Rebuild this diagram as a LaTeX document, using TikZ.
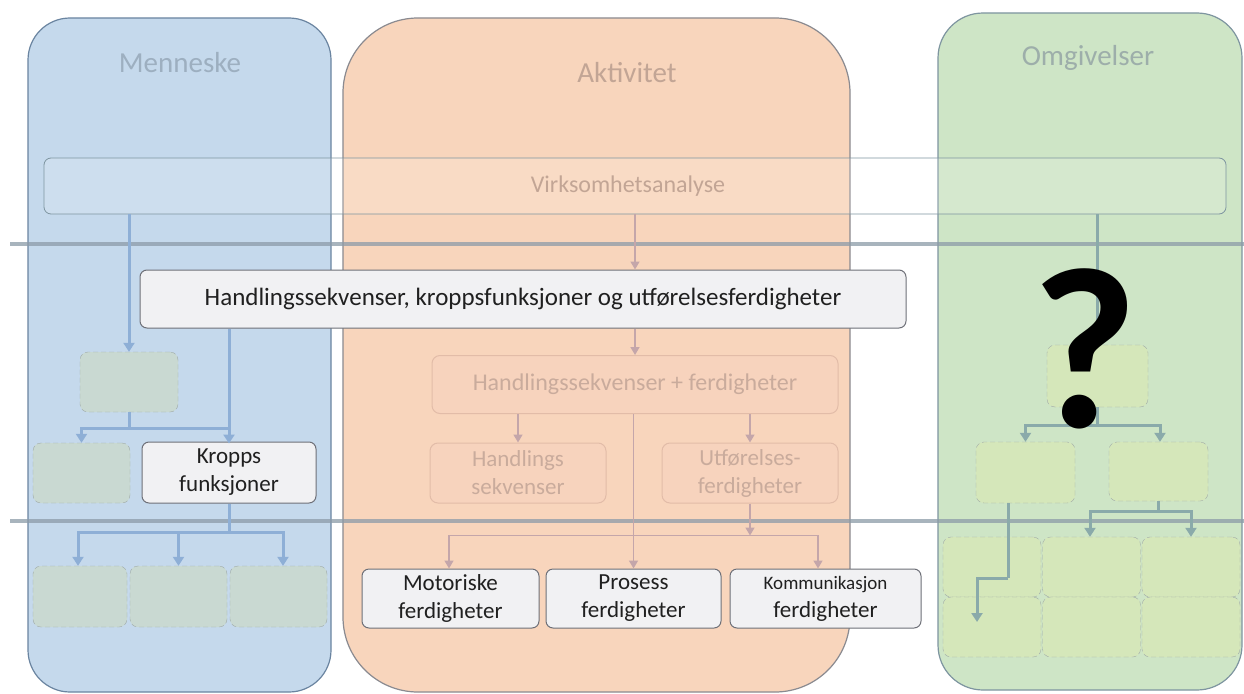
\documentclass[tikz,border=0pt]{standalone}
\usepackage{fontspec}
\setmainfont{Carlito}
\usetikzlibrary{arrows.meta}
\definecolor{bluefill}{HTML}{C5D9EC}
\definecolor{blueedge}{HTML}{6A84A0}
\definecolor{peachfill}{HTML}{F8D5BC}
\definecolor{peachedge}{HTML}{8A8A90}
\definecolor{greenfill}{HTML}{CEE5C6}
\definecolor{greenedge}{HTML}{7E95A0}
\definecolor{titleblue}{HTML}{9DAFC0}
\definecolor{titlepeach}{HTML}{C2A595}
\definecolor{titlegreen}{HTML}{9DAEAA}
\definecolor{barcol}{HTML}{8C9BA8}
\definecolor{bluearr}{HTML}{8EAFD6}
\definecolor{peacharr}{HTML}{C4A6AA}
\definecolor{greenarr}{HTML}{8AAAAA}
\definecolor{mainfill}{HTML}{F1F1F3}
\definecolor{mainedge}{HTML}{6E7078}
\definecolor{bdashfill}{HTML}{C9D9D2}
\definecolor{gdashfill}{HTML}{D5E7BA}
\definecolor{dashedge}{HTML}{A0AAA8}
\definecolor{hsffill}{HTML}{F7D3BD}
\definecolor{hsfedge}{HTML}{E2BCA8}
\definecolor{hsftext}{HTML}{C9AB9C}
\definecolor{maintext}{HTML}{202020}
\tikzset{
  panel/.style={draw=#1edge, fill=#1fill, line width=1.2pt},
  title/.style={font=\fontsize{29}{31}\selectfont},
  mainbox/.style={draw=mainedge, fill=mainfill, text=maintext, rounded corners=7pt, line width=1pt, align=center, inner sep=0pt},
  dashbox/.style={draw=dashedge, dashed, dash pattern=on 5pt off 3pt, fill=#1, rounded corners=8pt, inner sep=0pt},
  hsfbox/.style={draw=hsfedge, fill=hsffill, rounded corners=8pt, line width=1pt, text=hsftext, align=center, inner sep=0pt},
  twoline/.style={font=\fontsize{23}{28}\selectfont},
  barrow/.style={draw=bluearr, line width=3pt, -{Triangle[length=9pt,width=11pt]}},
  bline/.style={draw=bluearr, line width=3pt},
  parrow/.style={draw=peacharr, line width=1.6pt, -{Triangle[length=8pt,width=9pt]}},
  pline/.style={draw=peacharr, line width=1.6pt},
  garrow/.style={draw=greenarr, line width=3pt, -{Triangle[length=9pt,width=11pt]}},
  gline/.style={draw=greenarr, line width=3pt},
  hbar/.style={draw=barcol, line width=4pt, opacity=0.75},
}
\begin{document}
\begin{tikzpicture}[x=1pt,y=-1pt]
\useasboundingbox (0,0) rectangle (1244,693);
\fill[white] (0,0) rectangle (1244,693);
% panels
\node[panel=blue, rounded corners=42pt, minimum width=303pt, minimum height=674pt] (pm) at (179.5,355) {};
\node[panel=peach, rounded corners=75pt, minimum width=507pt, minimum height=674pt] (pa) at (596.5,355) {};
\node[panel=green, rounded corners=45pt, minimum width=304pt, minimum height=677pt] (po) at (1090,351.5) {};
\node[title, text=titleblue] (tm) at (180,63) {Menneske};
\node[title, text=titlepeach] (ta) at (627,73) {Aktivitet};
\node[title, text=titlegreen] (to) at (1088,58) {Omgivelser};
% Virksomhetsanalyse
\node[draw=greenedge, fill=white, fill opacity=0.15, text opacity=1, rounded corners=7pt, line width=0.8pt, minimum width=1182pt, minimum height=56pt, inner sep=0pt] (va) at (635,186) {};
\node[text=titlepeach, font=\fontsize{24}{26}\selectfont] (vat) at (628,186) {Virksomhetsanalyse};
% gray bars
\coordinate (b1l) at (10,244); \coordinate (b1r) at (1244,244);
\coordinate (b2l) at (10,521); \coordinate (b2r) at (1244,521);
\draw[hbar] (b1l) -- (b1r);
\draw[hbar] (b2l) -- (b2r);
% ---------- blue column ----------
\node[dashbox=bdashfill, minimum width=98pt, minimum height=60pt] (d1) at (129,382) {};
\node[dashbox=bdashfill, minimum width=97pt, minimum height=60pt] (d2) at (81.5,473) {};
\node[dashbox=bdashfill, minimum width=94pt, minimum height=61pt] (d3) at (80,596.5) {};
\node[dashbox=bdashfill, minimum width=97pt, minimum height=61pt] (d4) at (178.5,596.5) {};
\node[dashbox=bdashfill, minimum width=97pt, minimum height=61pt] (d5) at (278.5,596.5) {};
% main box
\node[mainbox, minimum width=766pt, minimum height=58pt, font=\fontsize{25}{27}\selectfont] (main) at (523,299) {Handlingssekvenser, kroppsfunksjoner og utførelsesferdigheter};
\node[mainbox, twoline, minimum width=174pt, minimum height=61pt] (kr) at (229,472.5) {Kropps\\funksjoner};
\draw[barrow] (va.south -| d1.north) -- (d1.north);
\draw[bline] (d1.south) -- ++(0,16) coordinate (j1);
\draw[barrow] (j1) -| (d2.north);
\draw[bline] (j1) -- (j1 -| kr.north);
\draw[barrow] (main.south -| kr.north) -- ([yshift=-2pt]kr.north);
\draw[bline] (kr.south) -- ++(0,29) coordinate (j2);
\draw[barrow] (j2) -| ([xshift=-2pt]d3.north);
\draw[barrow] (j2) -| ([xshift=4.5pt]d5.north);
\draw[barrow] (j2 -| d4.north) -- (d4.north);
% ---------- peach column ----------
\node[hsfbox, minimum width=406pt, minimum height=58pt, font=\fontsize{24}{26}\selectfont] (hsf) at (635,384.5) {Handlingssekvenser + ferdigheter};
\node[hsfbox, twoline, minimum width=176pt, minimum height=60pt] (hand) at (518,473) {Handlings\\sekvenser};
\node[hsfbox, twoline, minimum width=176pt, minimum height=60pt] (utf) at (750,473) {Utførelses-\\ferdigheter};
\node[mainbox, twoline, minimum width=177pt, minimum height=59pt] (mot) at (450.5,598.5) {Motoriske\\ferdigheter};
\node[mainbox, twoline, minimum width=175pt, minimum height=59pt] (pros) at (633.5,598.5) {Prosess\\ferdigheter};
\node[mainbox, twoline, minimum width=191pt, minimum height=59pt] (kom) at (825.5,598.5) {{\fontsize{19}{21}\selectfont Kommunikasjon}\\ferdigheter};
\draw[parrow] (va.south -| hsf.north) -- (main.north -| hsf.north);
\draw[parrow] (main.south -| hsf.north) -- (hsf.north);
\draw[parrow] (hsf.south -| hand.north) -- (hand.north);
\draw[parrow] (hsf.south -| utf.north) -- (utf.north);
\draw[parrow] (hsf.south -| pros.north) -- (pros.north);
\draw[parrow] (utf.south) -- ++(0,32) coordinate (j3);
\draw[parrow] (j3) -| ([xshift=-1.5pt]mot.north);
\draw[parrow] (j3) -| ([xshift=-7.5pt]kom.north);
% ---------- green column ----------
\node[dashbox=gdashfill, minimum width=101pt, minimum height=62pt] (g1) at (1097.5,376) {};
\node[dashbox=gdashfill, minimum width=99pt, minimum height=61pt] (g2) at (1025.5,472.5) {};
\node[dashbox=gdashfill, minimum width=99pt, minimum height=59pt] (g3) at (1158.5,471.5) {};
\node[dashbox=gdashfill, minimum width=98pt, minimum height=60pt] (g4) at (992,567) {};
\node[dashbox=gdashfill, minimum width=98pt, minimum height=60pt] (g5) at (1091.5,567) {};
\node[dashbox=gdashfill, minimum width=98pt, minimum height=60pt] (g6) at (1191,567) {};
\node[dashbox=gdashfill, minimum width=98pt, minimum height=60pt] (g7) at (992,627) {};
\node[dashbox=gdashfill, minimum width=98pt, minimum height=60pt] (g8) at (1091.5,627) {};
\node[dashbox=gdashfill, minimum width=98pt, minimum height=60pt] (g9) at (1191,627) {};
\draw[garrow] (va.south -| g1.north) -- (g1.north);
\draw[gline] (g1.south) -- ++(0,18) coordinate (j4);
\draw[garrow] (j4) -| (g2.north);
\draw[garrow] (j4) -| ([xshift=1.5pt]g3.north);
\draw[gline] ([xshift=-17.5pt]g2.south) -- ++(0,75) coordinate (j5);
\coordinate (e5) at (977,622);
\draw[garrow] (j5) -| (e5);
\draw[gline] (g3.south) -- ++(0,10) coordinate (j6);
\draw[garrow] (j6) -| ([xshift=-1.5pt]g5.north);
\draw[garrow] (j6) -| (g6.north);
% question mark
\node[font=\fontsize{230}{230}\selectfont\bfseries, text=black] (q) at (1085,349) {?};
\end{tikzpicture}
\end{document}
